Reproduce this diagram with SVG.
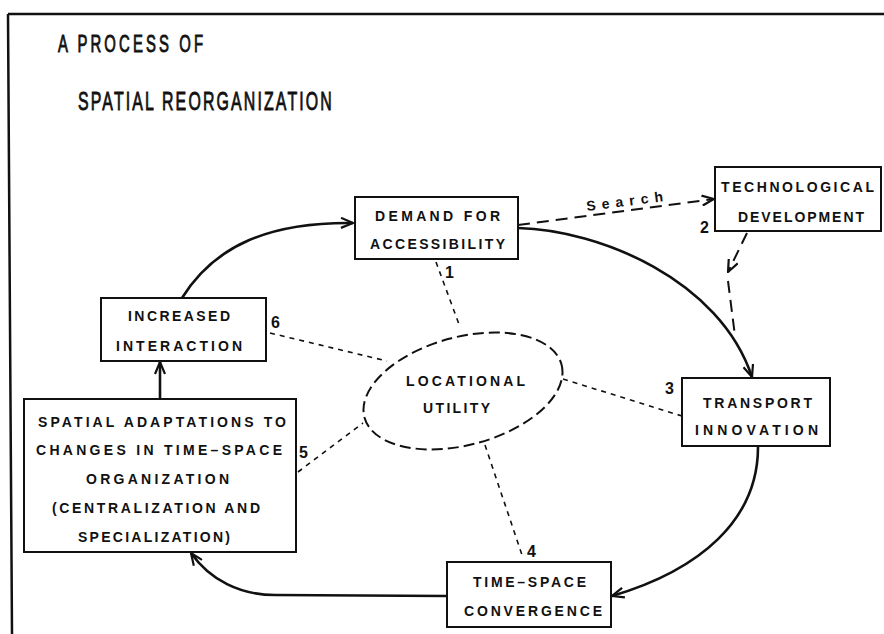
<svg xmlns="http://www.w3.org/2000/svg" width="884" height="634" viewBox="0 0 884 634">
  <defs>
    <style>
      .frame { fill: none; stroke: #111; stroke-width: 2.5; }
      .box { fill: #fff; stroke: #111; stroke-width: 2; }
      .lbl { font-family: "Liberation Sans", "DejaVu Sans", sans-serif; font-weight: 700; font-size: 14px; fill: #111; }
      .num { font-family: "Liberation Sans", "DejaVu Sans", sans-serif; font-weight: 700; font-size: 16px; fill: #111; }
      .title { font-family: "Liberation Sans", "DejaVu Sans", sans-serif; font-weight: 400; fill: #111; stroke: #111; stroke-width: 0.9; }
      .flow { fill: none; stroke: #111; stroke-width: 2.6; }
      .dash { fill: none; stroke: #111; stroke-width: 2; stroke-dasharray: 12 7; }
      .dot { fill: none; stroke: #111; stroke-width: 1.6; stroke-dasharray: 5 5; }
      .oval { fill: #fff; stroke: #111; stroke-width: 2; stroke-dasharray: 11 5; }
    </style>
    <marker id="arr" viewBox="0 0 14 12" refX="13" refY="6" markerWidth="14" markerHeight="12" markerUnits="userSpaceOnUse" orient="auto">
      <path d="M1,1 L13,6 L1,11" fill="none" stroke="#111" stroke-width="2.2"/>
    </marker>
  </defs>

  <rect width="884" height="634" fill="#fff"/>
  <path class="frame" d="M8,14 L884,14 M8,14 L12,634"/>

  <g id="title">
    <!-- condensed, letter-spaced heading -->
    <text class="title" font-size="24" transform="translate(58,52) scale(0.62,1)" x="0" y="0" textLength="234" lengthAdjust="spacing">A PROCESS OF</text>
    <text class="title" font-size="26.5" transform="translate(78,110) scale(0.6,1)" x="0" y="0" textLength="423" lengthAdjust="spacing">SPATIAL REORGANIZATION</text>
  </g>

  <g id="connectors">
    <!-- main cycle -->
    <path class="flow" d="M182,298 C215,245 270,222 353,223" marker-end="url(#arr)"/>
    <path class="flow" d="M518,228 C600,230 720,280 752,377" marker-end="url(#arr)"/>
    <path class="flow" d="M758,447 C758,520 700,570 612,596" marker-end="url(#arr)"/>
    <path class="flow" d="M447,596 L275,595 C240,595 210,580 191,553" marker-end="url(#arr)"/>
    <path class="flow" d="M160,399 L160,362" marker-end="url(#arr)"/>
    <!-- search loop -->
    <path class="dash" d="M518,225 L714,199" marker-end="url(#arr)"/>
    <path class="dash" d="M747,233 L728,272" marker-end="url(#arr)"/>
    <path class="dash" d="M728,281 L735,336"/>
    <!-- links to locational utility -->
    <path class="dot" d="M436,262 L460,327"/>
    <path class="dot" d="M270,333 L387,361"/>
    <path class="dot" d="M563,379 L682,416"/>
    <path class="dot" d="M485,445 L523,558"/>
    <path class="dot" d="M298,472 L363,423"/>
    <text class="lbl" x="587" y="211" font-size="14" textLength="77" lengthAdjust="spacing" transform="rotate(-7.3 587 211)">Search</text>
  </g>

  <g id="utility">
    <ellipse class="oval" cx="463" cy="391" rx="102" ry="54" transform="rotate(-15 463 391)"/>
    <text class="lbl" x="406" y="386" textLength="119" lengthAdjust="spacing">LOCATIONAL</text>
    <text class="lbl" x="423" y="413" textLength="67" lengthAdjust="spacing">UTILITY</text>
  </g>

  <g id="demand">
    <rect class="box" x="355" y="197" width="163" height="62"/>
    <text class="lbl" x="375" y="221" textLength="125" lengthAdjust="spacing">DEMAND FOR</text>
    <text class="lbl" x="370" y="249" textLength="135" lengthAdjust="spacing">ACCESSIBILITY</text>
    <text class="num" x="445" y="278">1</text>
  </g>

  <g id="technology">
    <rect class="box" x="715" y="167" width="166" height="64"/>
    <text class="lbl" x="721" y="192" textLength="153" lengthAdjust="spacing">TECHNOLOGICAL</text>
    <text class="lbl" x="738" y="222" textLength="126" lengthAdjust="spacing">DEVELOPMENT</text>
    <text class="num" x="700" y="233">2</text>
  </g>

  <g id="transport">
    <rect class="box" x="682" y="378" width="148" height="68"/>
    <text class="lbl" x="703" y="408" textLength="109" lengthAdjust="spacing">TRANSPORT</text>
    <text class="lbl" x="695" y="435" textLength="123" lengthAdjust="spacing">INNOVATION</text>
    <text class="num" x="665" y="394">3</text>
  </g>

  <g id="convergence">
    <rect class="box" x="447" y="562" width="164" height="65"/>
    <text class="lbl" x="473" y="587" textLength="113" lengthAdjust="spacing">TIME–SPACE</text>
    <text class="lbl" x="464" y="616" textLength="138" lengthAdjust="spacing">CONVERGENCE</text>
    <text class="num" x="527" y="557">4</text>
  </g>

  <g id="adaptations">
    <rect class="box" x="24" y="399" width="272" height="153"/>
    <text class="lbl" x="38" y="427" textLength="248" lengthAdjust="spacing">SPATIAL ADAPTATIONS TO</text>
    <text class="lbl" x="36" y="455" textLength="246" lengthAdjust="spacing">CHANGES IN TIME–SPACE</text>
    <text class="lbl" x="86" y="484" textLength="143" lengthAdjust="spacing">ORGANIZATION</text>
    <text class="lbl" x="52" y="513" textLength="208" lengthAdjust="spacing">(CENTRALIZATION AND</text>
    <text class="lbl" x="78" y="542" textLength="152" lengthAdjust="spacing">SPECIALIZATION)</text>
    <text class="num" x="299" y="458">5</text>
  </g>

  <g id="interaction">
    <rect class="box" x="101" y="298" width="165" height="63"/>
    <text class="lbl" x="128" y="321" textLength="102" lengthAdjust="spacing">INCREASED</text>
    <text class="lbl" x="116" y="351" textLength="126" lengthAdjust="spacing">INTERACTION</text>
    <text class="num" x="271" y="328">6</text>
  </g>
</svg>
